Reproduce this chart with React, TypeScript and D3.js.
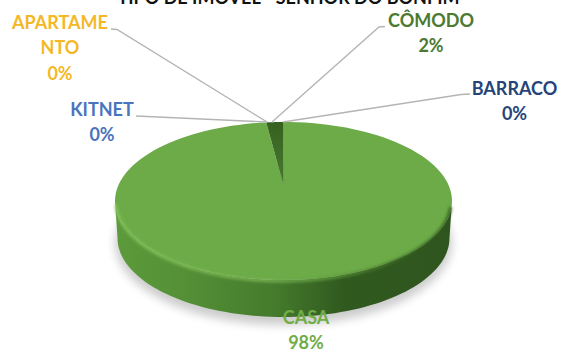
import React from "react";
import * as d3 from "d3";

// Share of each housing type, in the order the slices run clockwise from 12 o'clock.
const categories = ["CASA", "CÔMODO", "BARRACO", "KITNET", "APARTAMENTO"];
const shares = [98, 2, 0, 0, 0];
const title = "TIPO DE IMÓVEL - SENHOR DO BONFIM";

const labelColors: Record<string, string> = {
  CASA: "#70ad47",
  "CÔMODO": "#4b7a30",
  BARRACO: "#264478",
  KITNET: "#4a74bd",
  APARTAMENTO: "#f4b826",
};

// Label block centres and the lines of text each one wraps to.
const labelLines: Record<string, string[]> = {
  CASA: ["CASA"],
  "CÔMODO": ["CÔMODO"],
  BARRACO: ["BARRACO"],
  KITNET: ["KITNET"],
  APARTAMENTO: ["APARTAME", "NTO"],
};
const labelAnchors: Record<string, [number, number]> = {
  CASA: [306, 324],
  "CÔMODO": [431, 27],
  BARRACO: [514.5, 95],
  KITNET: [102, 116],
  APARTAMENTO: [60, 29],
};
const leaderPaths: Record<string, [number, number][]> = {
  "CÔMODO": [[385, 26.5], [379, 27], [272, 122]],
  BARRACO: [[470, 94], [461, 94.5], [283, 122]],
  KITNET: [[136, 116], [267, 122]],
  APARTAMENTO: [[111, 29], [117, 29.5], [267, 122]],
};

const CX = 283.5;
const CY = 201;
const RX = 168.5;
const RY = 79;
const DEPTH = 37;
// Perspective shift of the disc's centre, as a fraction of the vertical radius.
const K = -0.2;

// Projects a polar position on the tilted disc (0 = 12 o'clock, clockwise) onto the screen.
function project(angle: number, radius = 1): [number, number] {
  const u = radius * Math.sin(angle);
  const v = -radius * Math.cos(angle);
  const d = 1 + K * v;
  return [CX + (RX * u * Math.sqrt(1 - K * K)) / d, CY + (RY * (v + K)) / d];
}

function sliceOutline(start: number, end: number): string {
  const steps = d3.range(0, 121).map((i) => start + ((end - start) * i) / 120);
  const pts: [number, number][] = [project(0, 0), ...steps.map((a) => project(a))];
  return (d3.line()(pts) ?? "") + "Z";
}

const pieLayout = d3.pie<number>().sort(null).value((d) => d);
const arcs = pieLayout(shares);

const ellipsePoints = (cy: number, rx: number, from: number, to: number) =>
  d3.range(0, 81).map((i): [number, number] => {
    const t = from + ((to - from) * i) / 80;
    return [CX + rx * Math.cos(t), cy + RY * Math.sin(t)];
  });

// Wall of the cylinder: lower half of the top rim, then the lower rim back.
const wallPath =
  (d3.line()([
    ...ellipsePoints(CY, RX, 0, Math.PI),
    ...ellipsePoints(CY + DEPTH, RX - 2.5, Math.PI, 0),
  ]) ?? "") + "Z";
const rimPath = d3.line()(ellipsePoints(CY + 1, RX - 1, Math.PI * 0.99, Math.PI * 0.02)) ?? "";

const sliceFills = ["url(#faceCasa)", "url(#faceComodo)", "#a5a5a5", "#4472c4", "#ffc000"];

export default function App() {
  const leader = d3.line();
  return (
    <svg
      width={561}
      height={349}
      viewBox="0 0 561 349"
      style={{ position: "absolute", left: 0, top: 0, background: "#fff" }}
      fontFamily="Lato, 'Open Sans', sans-serif"
      fontWeight={700}
    >
      <defs>
        <radialGradient id="faceCasa" cx="0.5" cy="0.45" r="0.62">
          <stop offset="0" stopColor="#6dab48" />
          <stop offset="0.85" stopColor="#6cab48" />
          <stop offset="1" stopColor="#5e9b3c" />
        </radialGradient>
        <linearGradient id="faceComodo" x1="0" x2="0" y1="0" y2="1">
          <stop offset="0" stopColor="#36611f" />
          <stop offset="1" stopColor="#4a7a30" />
        </linearGradient>
        <linearGradient id="wall" x1="0" x2="1" y1="0" y2="0">
          <stop offset="0" stopColor="#5c9a3b" />
          <stop offset="0.22" stopColor="#548f36" />
          <stop offset="0.48" stopColor="#447a2c" />
          <stop offset="0.68" stopColor="#30591f" />
          <stop offset="1" stopColor="#2e551e" />
        </linearGradient>
        {/* Bevel along the disc's edge: bright on the lit side, shaded on the far side */}
        <linearGradient id="rim" x1="0" x2="1" y1="0" y2="0">
          <stop offset="0" stopColor="#84c15a" />
          <stop offset="0.45" stopColor="#80bc57" />
          <stop offset="0.65" stopColor="#5f9c3e" />
          <stop offset="0.85" stopColor="#38651f" />
          <stop offset="1" stopColor="#2e551e" />
        </linearGradient>
        <filter id="soft" x="-10%" y="-30%" width="120%" height="160%">
          <feGaussianBlur stdDeviation="5" />
        </filter>
        <filter id="rimBlur" x="-5%" y="-10%" width="110%" height="120%">
          <feGaussianBlur stdDeviation="1.4" />
        </filter>
      </defs>

      <text x={288.5} y={4} textAnchor="middle" fontSize={18} fill="#111">
        {title}
      </text>

      {/* Soft ground shadow under the disc */}
      <ellipse cx={CX} cy={CY + DEPTH + 5} rx={RX} ry={RY + 3} fill="#000" opacity={0.2} filter="url(#soft)" />

      <path d={wallPath} fill="url(#wall)" />

      {arcs.map((a, i) =>
        a.endAngle > a.startAngle ? (
          <path key={categories[i]} d={sliceOutline(a.startAngle, a.endAngle)} fill={sliceFills[i]} />
        ) : null
      )}

      <path d={rimPath} fill="none" stroke="url(#rim)" strokeWidth={2.5} filter="url(#rimBlur)" />

      {categories.map((c) =>
        leaderPaths[c] ? (
          <path key={c} d={leader(leaderPaths[c]) ?? ""} fill="none" stroke="#b4b4b4" strokeWidth={1.3} />
        ) : null
      )}

      {categories.map((c, i) => {
        const [x, y] = labelAnchors[c];
        const lines = [...labelLines[c], `${shares[i]}%`];
        return (
          <text key={c} x={x} y={y} textAnchor="middle" fontSize={18} fill={labelColors[c]}>
            {lines.map((line, j) => (
              <tspan key={j} x={x} dy={j === 0 ? 0 : 25.3}>
                {line}
              </tspan>
            ))}
          </text>
        );
      })}
    </svg>
  );
}
